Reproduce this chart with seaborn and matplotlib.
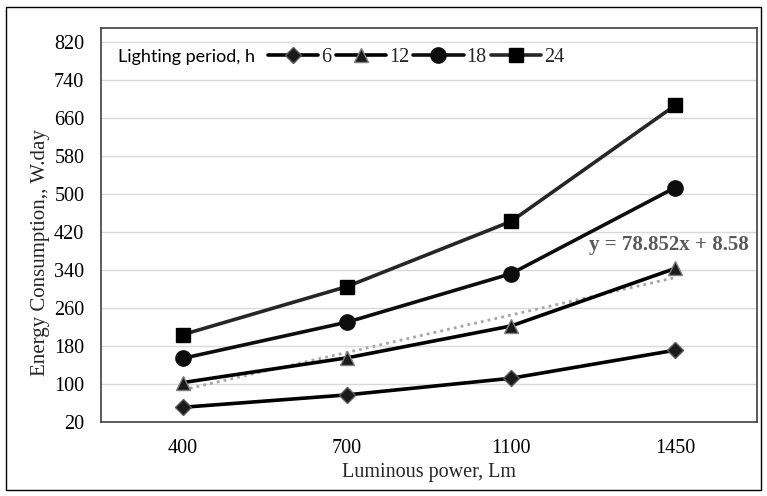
import numpy as np
import pandas as pd
import matplotlib
matplotlib.use("Agg")
import matplotlib.pyplot as plt
import seaborn as sns
from matplotlib.patches import Rectangle

# ---- data ----
lumens = ["400", "700", "1100", "1450"]
periods = ["6", "12", "18", "24"]
e6 = [51, 77, 112, 171]
e12 = [103, 155, 222, 343]
e18 = [154, 230, 332, 513]
e24 = [204, 305, 442, 686]
yticks = [20, 100, 180, 260, 340, 420, 500, 580, 660, 740, 820]
equation = "y = 78.852x + 8.58"

sns.set_theme(style="white")
plt.rcParams['font.family'] = ['Liberation Serif', 'DejaVu Serif']

fig = plt.figure(figsize=(7.67, 4.96), dpi=100)
W, H = 767, 496
ax = fig.add_axes([101 / W, 1 - 422 / H, (757 - 101) / W, (422 - 28) / H])

# outer border
fig.patches.append(Rectangle((6 / W, 1 - 490 / H), (761 - 6) / W, (490 - 7) / H,
                             transform=fig.transFigure, fill=False,
                             edgecolor="#000000", linewidth=1.0))

series = [e6, e12, e18, e24]
markers = ["D", "^", "o", "s"]
msizes = [8, 10, 11, 10]
lcolors = ["#000000", "#000000", "#0d0d0d", "#262626"]
mfc = ["#1a1a1a", "#1a1a1a", "#0d0d0d", "#000000"]
mec = ["#595959", "#7f7f7f", "#0d0d0d", "#000000"]

for vals, p, mk, ms, lc, fc, ec in zip(series, periods, markers, msizes, lcolors, mfc, mec):
    df = pd.DataFrame({"lm": lumens, "E": vals})
    sns.lineplot(data=df, x="lm", y="E", ax=ax, color=lc, linewidth=2.6,
                 marker=mk, markersize=ms, markerfacecolor=fc,
                 markeredgecolor=ec, markeredgewidth=1.0, label=p, sort=False)

# linear trendline on 12 h series
xi = np.arange(1, len(lumens) + 1)
coef = np.polyfit(xi, e12, 1)
trend = np.polyval(coef, xi)
ax.plot(np.arange(len(lumens)), trend, linestyle=(0, (1, 1.5)), color="#a6a6a6",
        linewidth=2.0, zorder=1.5)
ax.text(2.96, 372, equation, ha="center", va="bottom", fontsize=15,
        fontweight="bold", color="#595959")

ax.set_xlim(-0.5, 3.5)
ax.set_ylim(20, 849)
ax.set_yticks(yticks)
ax.set_yticklabels([str(t) for t in yticks])
ax.yaxis.grid(True, color="#d9d9d9", linewidth=1.0)
ax.xaxis.grid(False)
ax.set_axisbelow(True)
ax.tick_params(axis="both", length=0, labelsize=14.5, colors="#000000")
ax.tick_params(axis="y", pad=12)
ax.tick_params(axis="x", pad=12)
for s in ax.spines.values():
    s.set_color("#404040")
    s.set_linewidth(1.2)

ax.set_xlabel("Luminous power, Lm", fontsize=14.5, labelpad=4)
ax.set_ylabel("Energy Consumption,, W.day", fontsize=15, labelpad=0)
ax.yaxis.set_label_coords(-0.078, 0.43)

# legend: inline title + horizontal entries
ax.text((118 - 101) / 656, 1 - (57 - 28) / 394, "Lighting period, h",
        transform=ax.transAxes, ha="left", va="center", fontsize=13,
        family=["Lato", "DejaVu Sans"], color="#000000")
leg = ax.legend(loc="center left", bbox_to_anchor=((268 - 101) / 656, 1 - (57 - 28) / 394),
                ncol=4, frameon=False, handlelength=2.5, handletextpad=0.15,
                columnspacing=0.2, fontsize=14.5, borderaxespad=0, borderpad=0)

fig.savefig("out.png", dpi=100)
